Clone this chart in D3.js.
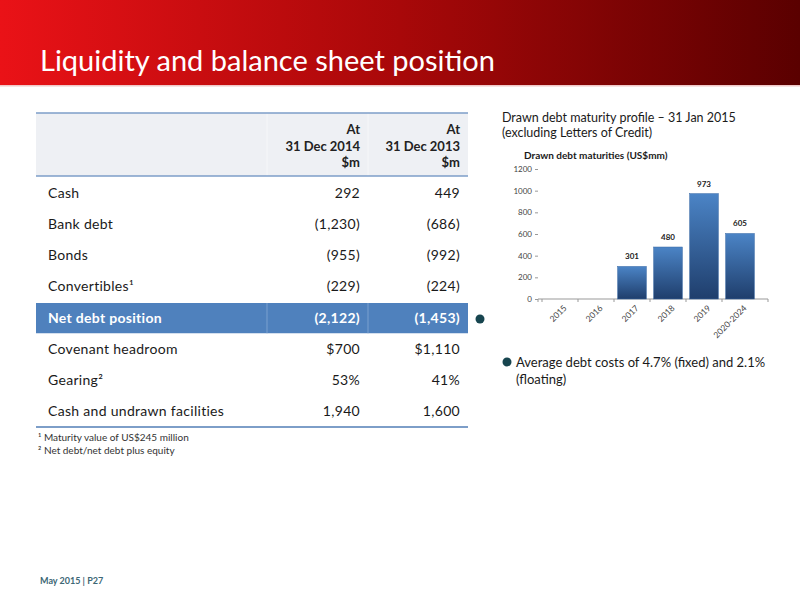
<!DOCTYPE html>
<html><head><meta charset="utf-8">
<script src="https://cdn.jsdelivr.net/npm/d3@7/dist/d3.min.js"></script>
<style>body{margin:0;background:#fff}svg{display:block;font-family:Lato,"Open Sans",sans-serif}</style>
</head><body>
<script>
// ---- data ----
const rowLabels = ["Cash","Bank debt","Bonds","Convertibles\u00B9","Net debt position","Covenant headroom","Gearing\u00B2","Cash and undrawn facilities"];
const values2014 = ["292","(1,230)","(955)","(229)","(2,122)","$700","53%","1,940"];
const values2013 = ["449","(686)","(992)","(224)","(1,453)","$1,110","41%","1,600"];
const headers2014 = ["At","31 Dec 2014","$m"];
const headers2013 = ["At","31 Dec 2013","$m"];
const highlightRow = "Net debt position";
const footnotes = ["\u00B9 Maturity value of US$245 million","\u00B2 Net debt/net debt plus equity"];

const categories = ["2015","2016","2017","2018","2019","2020-2024"];
const maturities = [0,0,301,480,973,605];
const yTicks = [0,200,400,600,800,1000,1200];

const W=800,H=600;
const svg=d3.select("body").append("svg").attr("width",W).attr("height",H);
const defs=svg.append("defs");
const hg=defs.append("linearGradient").attr("id","hdr").attr("x1","0").attr("x2","1");
hg.append("stop").attr("offset","0").attr("stop-color","#ea1217");
hg.append("stop").attr("offset","0.5").attr("stop-color","#a80809");
hg.append("stop").attr("offset","1").attr("stop-color","#5a0000");
const bg=defs.append("linearGradient").attr("id","bar").attr("x1","0").attr("x2","0").attr("y1","0").attr("y2","1");
bg.append("stop").attr("offset","0").attr("stop-color","#4b84c6");
bg.append("stop").attr("offset","1").attr("stop-color","#1f3e6c");

// header band
svg.append("rect").attr("x",0).attr("y",0).attr("width",W).attr("height",85).attr("fill","url(#hdr)");
svg.append("rect").attr("x",0).attr("y",85).attr("width",W).attr("height",1.5).attr("fill","#f0c8c8");
svg.append("text").attr("x",40).attr("y",71).attr("fill","#fff").attr("font-size",29)
  .text("Liquidity and balance sheet position");

// ---- table ----
const tL=36,tR=468,c1=360,c2=460;
const rows=d3.scaleBand().domain(rowLabels).range([177,427]);
svg.append("rect").attr("x",tL).attr("y",113).attr("width",tR-tL).attr("height",63).attr("fill","#eef0f4");
[267,368].forEach(x=>svg.append("line").attr("x1",x).attr("x2",x).attr("y1",113).attr("y2",176).attr("stroke","#f6f7f9").attr("stroke-width",1));
svg.append("line").attr("x1",tL).attr("x2",tR).attr("y1",113).attr("y2",113).attr("stroke","#7d9ec8").attr("stroke-width",1.5);
svg.append("line").attr("x1",tL).attr("x2",tR).attr("y1",176).attr("y2",176).attr("stroke","#7d9ec8").attr("stroke-width",1.5);
[[headers2014,c1],[headers2013,c2]].forEach(([hs,x])=>{
  hs.forEach((t,i)=>svg.append("text").attr("x",x).attr("y",134+i*16.5).attr("text-anchor","end")
    .attr("font-size",13).attr("font-weight","bold").attr("fill","#222").text(t));
});
// highlight row
const hy=rows(highlightRow);
svg.append("rect").attr("x",tL).attr("y",hy+1).attr("width",tR-tL).attr("height",rows.bandwidth()-1).attr("fill","#4f81bd");
[267,368].forEach(x=>svg.append("line").attr("x1",x).attr("x2",x).attr("y1",hy+1).attr("y2",hy+rows.bandwidth()).attr("stroke","#7ba0cf").attr("stroke-width",1));
const rg=svg.append("g").selectAll("g").data(rowLabels).join("g")
  .attr("transform",d=>`translate(0,${rows(d)+rows.bandwidth()/2+5})`);
const styleRow=s=>s.attr("font-size",14).attr("letter-spacing",0.3)
  .attr("fill",d=>d===highlightRow?"#fff":"#1a1a1a").attr("font-weight",d=>d===highlightRow?"bold":"normal");
rg.append("text").attr("x",48).call(styleRow).text(d=>d);
rg.append("text").attr("x",c1).attr("text-anchor","end").call(styleRow).text((d,i)=>values2014[i]);
rg.append("text").attr("x",c2).attr("text-anchor","end").call(styleRow).text((d,i)=>values2013[i]);
svg.append("line").attr("x1",tL).attr("x2",tR).attr("y1",427).attr("y2",427).attr("stroke","#7d9ec8").attr("stroke-width",2);
footnotes.forEach((t,i)=>svg.append("text").attr("x",38).attr("y",441+i*13).attr("font-size",10).attr("fill","#333").text(t));

// bullets
svg.append("circle").attr("cx",480).attr("cy",319).attr("r",4.5).attr("fill","#17454f");
svg.append("circle").attr("cx",507).attr("cy",362).attr("r",4.5).attr("fill","#17454f");
svg.append("text").attr("x",516).attr("y",367).attr("font-size",13).attr("fill","#1a1a1a").text("Average debt costs of 4.7% (fixed) and 2.1%");
svg.append("text").attr("x",516).attr("y",384).attr("font-size",13).attr("fill","#1a1a1a").text("(floating)");

// ---- chart ----
svg.append("text").attr("x",502).attr("y",122).attr("font-size",12.5).attr("fill","#1a1a1a").text("Drawn debt maturity profile \u2013 31 Jan 2015");
svg.append("text").attr("x",502).attr("y",137).attr("font-size",12.5).attr("fill","#1a1a1a").text("(excluding Letters of Credit)");
svg.append("text").attr("x",524).attr("y",159).attr("font-size",10).attr("font-weight","bold").attr("fill","#1a1a1a").text("Drawn debt maturities (US$mm)");

const x=d3.scaleBand().domain(categories).range([542,758]).paddingInner(0.2).paddingOuter(0.1);
const y=d3.scaleLinear().domain([0,1200]).range([299,169]);
const ya=svg.append("g").attr("transform","translate(538,0)")
  .call(d3.axisLeft(y).tickValues(yTicks).tickSize(3).tickFormat(d3.format("d")));
ya.select(".domain").remove();
ya.selectAll("line").attr("stroke","#999");
ya.selectAll("text").attr("font-size",8).attr("fill","#444").attr("font-family","Lato,sans-serif");
const xa=svg.append("g").attr("transform","translate(0,299)")
  .call(d3.axisBottom(x).tickSize(3));
xa.select(".domain").attr("stroke","#999").attr("d","M538,3V0H768V3");
xa.selectAll("line").attr("stroke","#999").attr("transform",`translate(${-x.step()/2},0)`);
xa.selectAll("text").attr("font-size",8.5).attr("fill","#444").attr("font-family","Lato,sans-serif")
  .attr("text-anchor","end").attr("dx","-0.2em").attr("dy","0.7em").attr("transform","rotate(-45)");
const data=categories.map((c,i)=>({c,v:maturities[i]}));
svg.append("g").selectAll("rect").data(data.filter(d=>d.v>0)).join("rect")
  .attr("x",d=>x(d.c)).attr("width",x.bandwidth()).attr("y",d=>y(d.v)).attr("height",d=>y(0)-y(d.v))
  .attr("fill","url(#bar)").attr("stroke","#3a6aa5").attr("stroke-width",0.5);
svg.append("g").selectAll("text").data(data.filter(d=>d.v>0)).join("text")
  .attr("x",d=>x(d.c)+x.bandwidth()/2).attr("y",d=>y(d.v)-7).attr("text-anchor","middle")
  .attr("font-size",8).attr("font-weight","bold").attr("fill","#222").text(d=>d.v);

// footer
svg.append("text").attr("x",40).attr("y",584).attr("font-size",9).attr("font-weight","bold").attr("fill","#3d6775").text("May 2015 | P27");
</script>
</body></html>
